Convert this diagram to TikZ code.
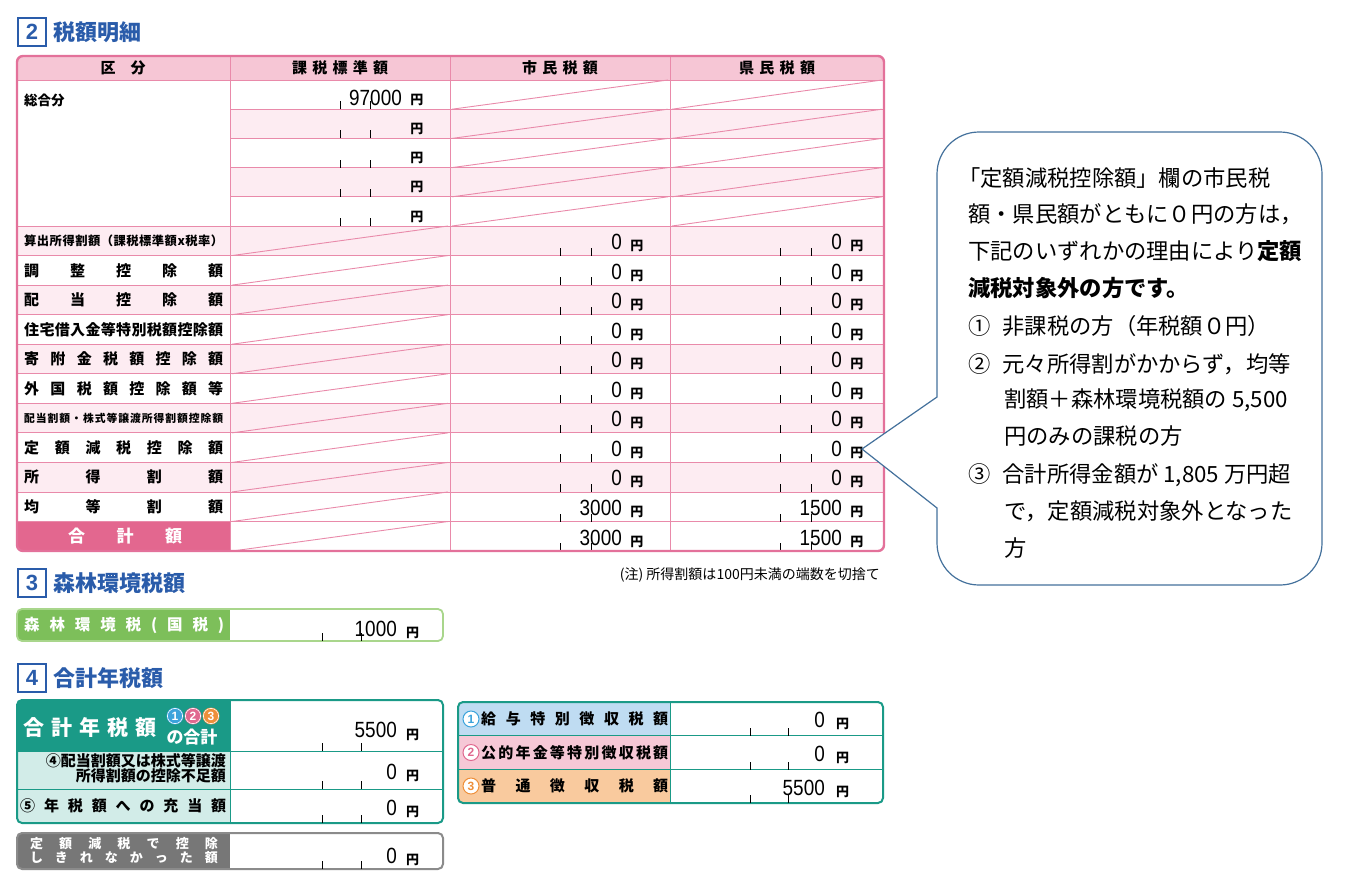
\documentclass[tikz,border=0pt]{standalone}
\usepackage{fontspec}
\setmainfont{Noto Sans CJK JP}
\newfontfamily\numf[FakeStretch=0.86]{Liberation Sans}
\newfontfamily\numb{Liberation Sans}
\newfontfamily\palt[RawFeature=+palt]{Noto Sans CJK JP}
\makeatletter
\def\distA#1{#1\@ifnextchar\relax{\@gobble}{\hfil\distA}}
\newcommand\dist[2]{\makebox[#1][s]{\distA#2\relax}}
\makeatother
\definecolor{pinkB}{HTML}{E3719A}
\definecolor{pinkL}{HTML}{E98AAA}
\definecolor{pinkH}{HTML}{F6C6D5}
\definecolor{pinkR}{HTML}{FDECF2}
\definecolor{pinkT}{HTML}{E3678F}
\definecolor{blueT}{HTML}{2A5CAA}
\definecolor{greenL}{HTML}{7DBF5A}
\definecolor{greenB}{HTML}{A9D68C}
\definecolor{tealD}{HTML}{1A9A87}
\definecolor{tealL}{HTML}{D2ECE8}
\definecolor{greyD}{HTML}{777777}
\definecolor{callC}{HTML}{44719C}
\definecolor{cBlue}{HTML}{3BA3DB}
\definecolor{cPink}{HTML}{E0688F}
\definecolor{cOrange}{HTML}{EE8F3A}
\definecolor{lBlue}{HTML}{BFDCF2}
\definecolor{lPink}{HTML}{F6C8D6}
\definecolor{lOrange}{HTML}{F9CA9E}
\tikzset{
 num/.style={anchor=base east,inner sep=0,font=\numf\fontsize{22}{22}\selectfont},
 yen/.style={anchor=base west,inner sep=0,font=\fontsize{13}{13}\selectfont\bfseries},
 lab/.style={anchor=west,inner sep=0,font=\fontsize{15}{15}\selectfont\bfseries},
 hdr/.style={inner sep=0,font=\fontsize{15}{15}\selectfont\bfseries},
 tick/.style={line width=0.6pt},
 secbox/.style={draw=blueT,line width=2.4pt},
 sectitle/.style={anchor=west,inner sep=0,text=blueT,font=\fontsize{22}{22}\selectfont\bfseries},
 secnum/.style={inner sep=0,text=blueT,font=\numb\fontsize{22}{22}\selectfont\bfseries},
 ctext/.style={anchor=base west,inner sep=0,font=\fontsize{22.3}{22.3}\selectfont},
}
\begin{document}
\begin{tikzpicture}[x=1pt,y=-1pt]
\useasboundingbox (0,0) rectangle (1348,895);
% ===== Section 2 title
\draw[secbox] (18,18) rectangle (46,46);
\node[secnum] (n2) at (32,32) {2};
\node[sectitle] (t2) at (53,32) {税額明細};
% ===== Table fills
\begin{scope}
\clip[rounded corners=6] (17,56) rectangle (884,551);
\fill[pinkH] (17,56) rectangle (884,80);
\foreach \j in {1,3}{\pgfmathsetmacro\yt{80+29.2*\j}\fill[pinkR] (230,\yt) rectangle (884,\yt+29.2);}
\foreach \i in {0,2,4,6,8}{\pgfmathsetmacro\yt{226+29.55*\i}\fill[pinkR] (17,\yt) rectangle (884,\yt+29.55);}
\fill[pinkT] (17,521.45) rectangle (230,551);
\end{scope}
\begin{scope}[draw=pinkL,line width=0.9pt]
\draw (17,80) -- (884,80);
\foreach \j in {1,...,4}{\pgfmathsetmacro\yt{80+29.2*\j}\draw (230,\yt) -- (884,\yt);}
\foreach \i in {0,...,10}{\pgfmathsetmacro\yt{226+29.55*\i}\draw (17,\yt) -- (884,\yt);}
\draw (230,56) -- (230,551) (450,56) -- (450,551) (670,56) -- (670,551);
\foreach \j in {0,...,4}{\pgfmathsetmacro\yt{80+29.2*\j}\pgfmathsetmacro\yb{\yt+29.2}
  \draw (452,\yb) -- (668,\yt); \draw (672,\yb) -- (882,\yt);
  \draw[black,tick] (340,\yb) -- (340,\yb-8) (370,\yb) -- (370,\yb-8);
  \node[yen,text=black] at (410,\yb-5) {円};}
\foreach \i in {0,...,10}{\pgfmathsetmacro\yt{226+29.55*\i}\pgfmathsetmacro\yb{\yt+29.55}
  \draw (232,\yb) -- (448,\yt);
  \draw[black,tick] (560,\yb) -- (560,\yb-8) (591,\yb) -- (591,\yb-8) (780,\yb) -- (780,\yb-8) (811,\yb) -- (811,\yb-8);
  \node[yen,text=black] at (630,\yb-5) {円};
  \node[yen,text=black] at (850,\yb-5) {円};}
\end{scope}
\draw[pinkB,line width=2.4pt,rounded corners=6] (17,56) rectangle (884,551);
% headers
\node[hdr] (h1) at (123,68) {区\quad 分};
\node[hdr] (h2) at (340,68) {\dist{96pt}{課税標準額}};
\node[hdr] (h3) at (560,68) {\dist{76pt}{市民税額}};
\node[hdr] (h4) at (777,68) {\dist{76pt}{県民税額}};
% row labels
\node[lab,anchor=base west,font=\fontsize{13.5}{13.5}\selectfont\bfseries] (l0) at (24,105) {総合分};
\node[num] (v0) at (402,105) {97000};
\node[lab,font=\fontsize{12.3}{12.3}\selectfont\bfseries] (r0) at (24,241) {\dist{199pt}{算出所得割額（課税標準額x税率）}};
\node[lab] (r1) at (24,270.5) {\dist{199pt}{調整控除額}};
\node[lab] (r2) at (24,300) {\dist{199pt}{配当控除額}};
\node[lab,font=\fontsize{15}{15}\selectfont\bfseries] (r3) at (24,329.5) {\dist{199pt}{住宅借入金等特別税額控除額}};
\node[lab] (r4) at (24,359) {\dist{199pt}{寄附金税額控除額}};
\node[lab] (r5) at (24,388.5) {\dist{199pt}{外国税額控除額等}};
\node[lab,font=\fontsize{10.8}{10.8}\selectfont\bfseries] (r6) at (24,418) {\dist{199pt}{配当割額・株式等譲渡所得割額控除額}};
\node[lab] (r7) at (24,447.5) {\dist{199pt}{定額減税控除額}};
\node[lab] (r8) at (24,477) {\dist{199pt}{所得割額}};
\node[lab] (r9) at (24,506.5) {\dist{199pt}{均等割額}};
\node[lab,text=white,font=\fontsize{17}{17}\selectfont\bfseries] (r10) at (68,536) {\dist{114pt}{合計額}};
\foreach \i/\a/\b in {0/0/0,1/0/0,2/0/0,3/0/0,4/0/0,5/0/0,6/0/0,7/0/0,8/0/0,9/3000/1500,10/3000/1500}{
  \pgfmathsetmacro\yb{226+29.55*(\i+1)}
  \node[num] (a\i) at (622,\yb-6) {\a};
  \node[num] (b\i) at (842,\yb-6) {\b};}
\node[anchor=base east,inner sep=0,font=\fontsize{14}{14}\selectfont] (note) at (880,579) {(注) 所得割額は100円未満の端数を切捨て};
% ===== Callout
\draw[callC,line width=1.2pt,fill=white] (862,449) -- (937,397) [rounded corners=42] -- (937,132) -- (1322,132) -- (1322,585) -- (937,585) [sharp corners] -- (937,508) -- cycle;
\node[ctext] (c1) at (958,186) {「定額減税控除額」欄の市民税};
\node[ctext] (c2) at (968,222) {額・県民額がともに０円の方は，};
\node[ctext] (c3) at (968,259) {下記のいずれかの理由により\textbf{定額}};
\node[ctext] (c4) at (968,296) {\textbf{減税対象外の方です。}};
\node[ctext] (c5) at (968,334) {①\hspace{12pt}非課税の方（年税額０円）};
\node[ctext] (c6) at (968,372) {②\hspace{12pt}元々所得割がかからず，均等};
\node[ctext] (c7) at (1004,407) {割額＋森林環境税額の 5,500};
\node[ctext] (c8) at (1004,444) {円のみの課税の方};
\node[ctext] (c9) at (968,482) {③\hspace{12pt}合計所得金額が 1,805 万円超};
\node[ctext] (c10) at (1004,519) {で，定額減税対象外となった};
\node[ctext] (c11) at (1004,556) {方};
% ===== Section 3
\draw[secbox] (18,569) rectangle (46,597);
\node[secnum] (n3) at (32,583) {3};
\node[sectitle] (t3) at (53,583) {森林環境税額};
\begin{scope}
\clip[rounded corners=5] (17,609) rectangle (443,641);
\fill[greenL] (17,609) rectangle (230,641);
\end{scope}
\draw[greenB,line width=1.8pt,rounded corners=5] (17,609) rectangle (443,641);
\node[lab,text=white,font=\fontsize{15.5}{15.5}\selectfont\bfseries] (g1) at (24,625) {\dist{200pt}{森林環境税(国税)}};
\draw[tick] (322,641) -- (322,633) (361,641) -- (361,633);
\node[num] (g2) at (397,636) {1000};
\node[yen] at (406,637) {円};
% ===== Section 4
\draw[secbox] (18,664) rectangle (46,692);
\node[secnum] (n4) at (32,678) {4};
\node[sectitle] (t4) at (53,678) {合計年税額};
\begin{scope}
\clip[rounded corners=5] (17,700) rectangle (443,823);
\fill[tealD] (17,700) rectangle (230,751);
\fill[tealL] (17,751) rectangle (230,823);
\end{scope}
\draw[tealD,line width=1pt] (17,751) -- (443,751) (17,789) -- (443,789) (230,700) -- (230,823);
\draw[tealD,line width=2pt,rounded corners=5] (17,700) rectangle (443,823);
\node[lab,text=white,font=\fontsize{21}{21}\selectfont\bfseries] (s1) at (23,727) {\dist{133pt}{合計年税額}};
\foreach \k/\c/\xx in {1/cBlue/175,2/cPink/193,3/cOrange/211}{
  \fill[\c] (\xx,716) circle (8.5);
  \draw[white,line width=0.6pt] (\xx,716) circle (7.6);
  \node[inner sep=0,text=white,font=\numb\fontsize{12}{12}\selectfont\bfseries] at (\xx,716) {\k};}
\node[inner sep=0,text=white,font=\palt\fontsize{17}{17}\selectfont\bfseries] (s1b) at (192,737) {の合計};
\node[num] (s1v) at (397,737) {5500};
\node[yen] at (406,739) {円};
\node[inner sep=0,anchor=north east,align=right,font=\fontsize{15}{15.5}\selectfont\bfseries] (s2) at (226,753) {④配当割額又は株式等譲渡\\所得割額の控除不足額};
\node[num] (s2v) at (397,779) {0};
\node[yen] at (406,780) {円};
\node[lab] (s3x) at (20,806) {\dist{206pt}{⑤年税額への充当額}};
\node[num] (s3v) at (397,815) {0};
\node[yen] at (406,816) {円};
\foreach \yb in {751,789,823}{\draw[tick] (322,\yb) -- (322,\yb-8) (361,\yb) -- (361,\yb-8);}
% grey box
\begin{scope}
\clip[rounded corners=5] (17,833) rectangle (443,869);
\fill[greyD] (17,833) rectangle (230,869);
\end{scope}
\draw[greyD!85,line width=2pt,rounded corners=5] (17,833) rectangle (443,869);
\node[inner sep=0,text=white,font=\fontsize{13}{14}\selectfont\bfseries,align=left] (gr) at (124,851) {\dist{188pt}{定額減税で控除}\\\dist{188pt}{しきれなかった額}};
\draw[tick] (322,869) -- (322,861) (361,869) -- (361,861);
\node[num] (grv) at (397,863) {0};
\node[yen] at (406,864) {円};
% right box
\begin{scope}
\clip[rounded corners=5] (458,702) rectangle (883,803);
\fill[lBlue] (458,702) rectangle (670,735.5);
\fill[lPink] (458,735.5) rectangle (670,769.5);
\fill[lOrange] (458,769.5) rectangle (670,803);
\end{scope}
\draw[tealD,line width=1pt] (458,735.5) -- (883,735.5) (458,769.5) -- (883,769.5) (670,702) -- (670,803);
\draw[tealD,line width=2pt,rounded corners=5] (458,702) rectangle (883,803);
\foreach \k/\c/\yy in {1/cBlue/719,2/cPink/752.5,3/cOrange/786}{
  \draw[\c,fill=white,line width=1pt] (471,\yy) circle (8);
  \node[inner sep=0,text=\c,font=\numb\fontsize{12}{12}\selectfont\bfseries] at (471,\yy) {\k};}
\node[lab] (q1) at (481,719) {\dist{187pt}{給与特別徴収税額}};
\node[lab] (q2) at (481,752.5) {\dist{187pt}{公的年金等特別徴収税額}};
\node[lab] (q3) at (481,786) {\dist{187pt}{普通徴収税額}};
\foreach \yb/\v in {735.5/0,769.5/0,803/5500}{
  \draw[tick] (750,\yb) -- (750,\yb-8) (788,\yb) -- (788,\yb-8);
  \node[num] at (825,\yb-8) {\v};
  \node[yen] at (836,\yb-7) {円};}
\end{tikzpicture}
\end{document}
